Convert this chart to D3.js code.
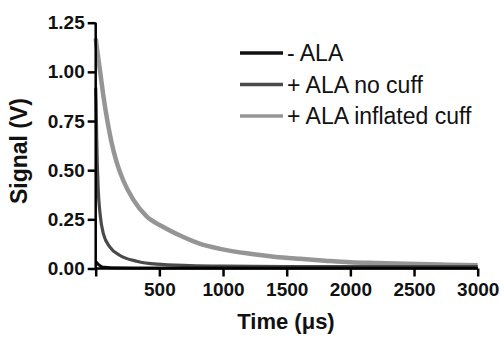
<!DOCTYPE html>
<html>
<head>
<meta charset="utf-8">
<script src="https://cdn.jsdelivr.net/npm/d3@7"></script>
<style>
  body { margin: 0; background: #fff; }
  text { font-family: "Liberation Sans", Arial, sans-serif; }
</style>
</head>
<body>
<script>
// values
const seriesNames = ["- ALA", "+ ALA no cuff", "+ ALA inflated cuff"];
const seriesColors = ["#111111", "#4a4a4a", "#959595"];

const timeNoAla = [0, 10, 25, 45, 70, 120, 300, 1000, 2000, 3000];
const signalNoAla = [0.035, 0.028, 0.018, 0.010, 0.006, 0.004, 0.003, 0.003, 0.003, 0.003];

const timeNoCuff = [0, 3, 8, 20, 34, 60, 112, 191, 322, 479, 740, 1000, 1500, 2000, 2500, 3000];
const signalNoCuff = [0.92, 0.85, 0.65, 0.40, 0.28, 0.177, 0.109, 0.066, 0.037, 0.022, 0.015, 0.012, 0.010, 0.010, 0.010, 0.010];

const timeCuff = [0, 18, 35, 62, 92, 125, 165, 215, 295, 400, 531, 688, 820, 976, 1211, 1400, 1604, 1800, 1997, 2200, 2441, 2700, 3000];
const signalCuff = [1.17, 1.08, 1.0, 0.87, 0.75, 0.64, 0.54, 0.45, 0.35, 0.265, 0.211, 0.160, 0.125, 0.100, 0.075, 0.060, 0.049, 0.040, 0.032, 0.028, 0.024, 0.020, 0.016];

const xTicks = [0, 500, 1000, 1500, 2000, 2500, 3000];
const yTicks = [0, 0.25, 0.5, 0.75, 1.0, 1.25];

function mian() {
    const W = 501, H = 337;
    const svg = d3.select("body").append("svg")
        .attr("width", W)
        .attr("height", H);

    const x = d3.scaleLinear().domain([0, 3000]).range([95.7, 477.7]);
    const y = d3.scaleLinear().domain([0, 1.25]).range([268.5, 22.7]);

    const series = [
        { t: timeNoAla, v: signalNoAla, w: 3 },
        { t: timeNoCuff, v: signalNoCuff, w: 3.2 },
        { t: timeCuff, v: signalCuff, w: 4.5 }
    ];

    const line = d3.line()
        .x(d => x(d[0]))
        .y(d => y(d[1]))
        .curve(d3.curveMonotoneX);

    // draw light first so dark lines sit on top
    [2, 1, 0].forEach(i => {
        const s = series[i];
        svg.append("path")
            .datum(s.t.map((t, k) => [t, s.v[k]]))
            .attr("d", line)
            .attr("fill", "none")
            .attr("stroke", seriesColors[i])
            .attr("stroke-width", s.w)
            .attr("stroke-linejoin", "round");
    });

    // axes
    const xAxis = svg.append("g")
        .attr("transform", "translate(0," + y(0) + ")")
        .call(d3.axisBottom(x).tickValues(xTicks).tickSize(8).tickPadding(6)
            .tickFormat(d => d === 0 ? "" : d));
    const yAxis = svg.append("g")
        .attr("transform", "translate(" + x(0) + ",0)")
        .call(d3.axisLeft(y).tickValues(yTicks).tickSize(8).tickPadding(3)
            .tickFormat(d3.format(".2f")));

    [xAxis, yAxis].forEach(g => {
        g.select(".domain").attr("stroke", "#000").attr("stroke-width", 2.5);
        g.selectAll(".tick line").attr("stroke", "#000").attr("stroke-width", 2.5);
        g.selectAll(".tick text")
            .attr("fill", "#111")
            .style("font-size", "19px")
            .style("font-weight", "bold");
    });
    // plain axis lines without end caps
    xAxis.select(".domain").attr("d", "M" + x(0) + ",0H" + x(3000));
    yAxis.select(".domain").attr("d", "M0," + y(0) + "V" + y(1.25));

    svg.append("text")
        .attr("x", 286).attr("y", 329)
        .attr("text-anchor", "middle")
        .style("font-size", "22px").style("font-weight", "bold")
        .attr("fill", "#111")
        .text("Time (μs)");

    svg.append("text")
        .attr("transform", "translate(27,151) rotate(-90)")
        .attr("text-anchor", "middle")
        .style("font-size", "23px").style("font-weight", "bold")
        .attr("fill", "#111")
        .text("Signal (V)");

    // legend
    const legend = svg.append("g");
    seriesNames.forEach((name, i) => {
        const ly = 53 + i * 31.5;
        legend.append("line")
            .attr("x1", 240).attr("x2", 283)
            .attr("y1", ly).attr("y2", ly)
            .attr("stroke", seriesColors[i])
            .attr("stroke-width", 3.5);
        legend.append("text")
            .attr("x", 287).attr("y", ly + 8)
            .style("font-size", "23px")
            .attr("fill", "#111")
            .text(name);
    });
}
mian();
</script>
</body>
</html>
